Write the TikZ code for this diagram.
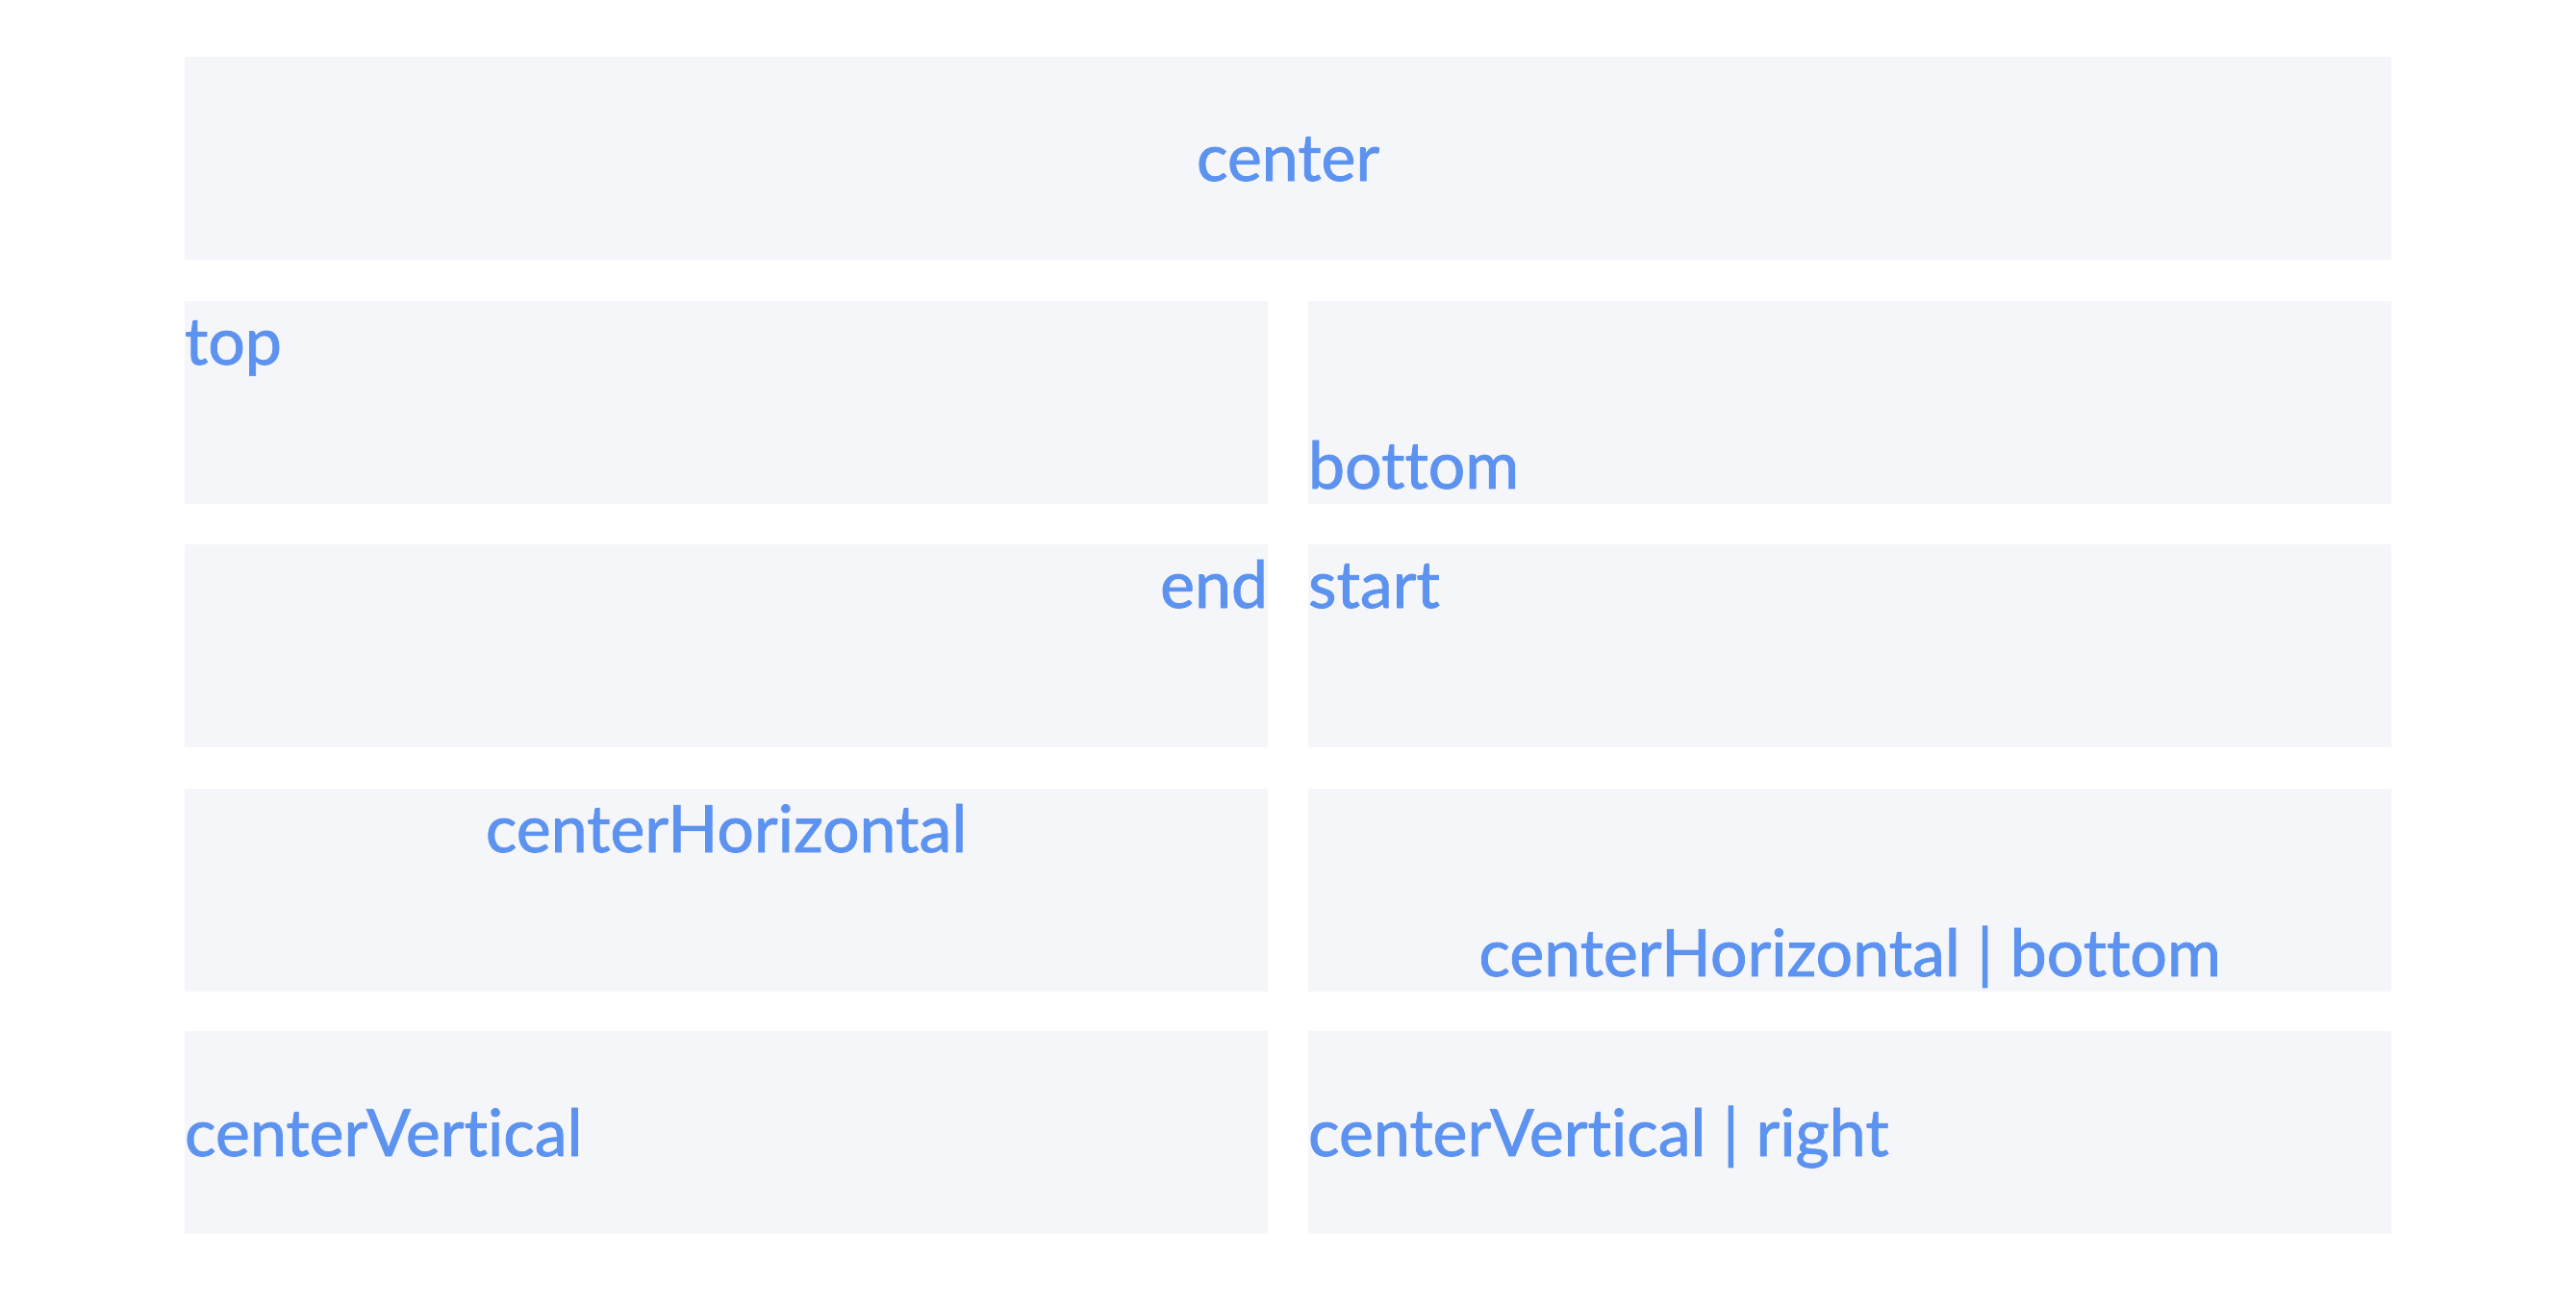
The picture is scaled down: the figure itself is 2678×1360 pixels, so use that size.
\documentclass[tikz,border=0pt]{standalone}
\usepackage{fontspec}
\setmainfont{Lato}[Ligatures={NoCommon,NoRequired,NoContextual},FakeBold=1.2]
\usetikzlibrary{calc}
\definecolor{cellfill}{RGB}{245,246,250}
\definecolor{labelblue}{RGB}{92,146,240}
\begin{document}
\begin{tikzpicture}[x=1pt,y=-1pt,
  cell/.style={fill=cellfill, draw=none, inner sep=0pt, outer sep=0pt,
               anchor=north west, minimum height=211pt},
  wide/.style={cell, minimum width=2294pt},
  half/.style={cell, minimum width=1126pt},
  lbl/.style={text=labelblue, inner sep=0pt, outer sep=0pt,
              font=\fontsize{68}{80}\selectfont}]
\useasboundingbox (0,0) rectangle (2678,1360);

% cells
\node[wide] (c0) at (192,59) {};
\node[half] (r1l) at (192,313) {};
\node[half] (r1r) at (1360,313) {};
\node[half] (r2l) at (192,566) {};
\node[half] (r2r) at (1360,566) {};
\node[half] (r3l) at (192,820) {};
\node[half] (r3r) at (1360,820) {};
\node[half] (r4l) at (192,1072) {};
\node[half] (r4r) at (1360,1072) {};

% labels
\node[lbl, anchor=base] (tcenter) at ($(c0.center)+(0,23.5)$) {center};
\node[lbl, anchor=base west] (ttop) at ($(r1l.north west)+(0,66)$) {top};
\node[lbl, anchor=base west] (tbottom) at ($(r1r.south west)+(0,-16)$) {bottom};
\node[lbl, anchor=base east] (tend) at ($(r2l.north east)+(0,66)$) {end};
\node[lbl, anchor=base west] (tstart) at ($(r2r.north west)+(0,66)$) {start};
\node[lbl, anchor=base] (tch) at ($(r3l.north)+(0,66)$) {centerHorizontal};
\node[lbl, anchor=base] (tchb) at ($(r3r.south)+(0,-16)$) {centerHorizontal | bottom};
\node[lbl, anchor=base west] (tcv) at ($(r4l.west)+(0,24.5)$) {centerVertical};
\node[lbl, anchor=base west] (tcvr) at ($(r4r.west)+(0,24.5)$) {centerVertical | right};
\end{tikzpicture}
\end{document}
